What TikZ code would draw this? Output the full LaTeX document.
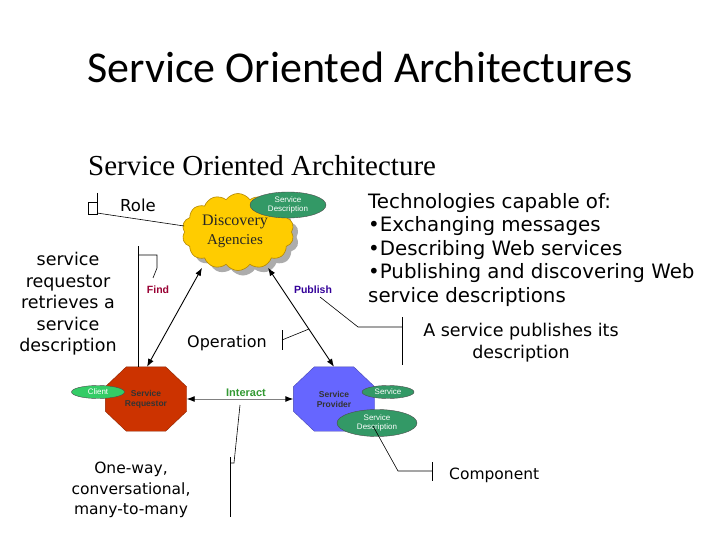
\documentclass[tikz,border=0pt]{standalone}
\usepackage{fontspec}
\setmainfont{DejaVu Sans}
\newfontfamily\titlefont{Carlito}
\newfontfamily\serifx{Liberation Serif}
\newfontfamily\arialx{Liberation Sans}
\usetikzlibrary{shapes.symbols,shapes.geometric,arrows.meta,backgrounds,calc}
\definecolor{cloudy}{HTML}{FFCC00}
\definecolor{cloudedge}{HTML}{B38600}
\definecolor{sgreen}{HTML}{339966}
\definecolor{lgreen}{HTML}{33CC66}
\definecolor{reqred}{HTML}{CC3300}
\definecolor{provblue}{HTML}{6666FF}
\definecolor{findc}{HTML}{990033}
\definecolor{pubc}{HTML}{330099}
\definecolor{intc}{HTML}{339933}
\newcommand\octofill[2]{%
  \filldraw[fill=#2, draw=#2!70!black, line width=0.4pt] ([xshift=21pt]#1.north west) -- ([xshift=-21pt]#1.north east)
    -- ([yshift=-20pt]#1.north east) -- ([yshift=20pt]#1.south east)
    -- ([xshift=-21pt]#1.south east) -- ([xshift=21pt]#1.south west)
    -- ([yshift=20pt]#1.south west) -- ([yshift=-20pt]#1.north west) -- cycle;}
\begin{document}
\begin{tikzpicture}[x=1pt,y=-1pt,inner sep=0pt,
  cloudshape/.style={cloud, cloud puffs=14, cloud puff arc=110, cloud ignores aspect,
    minimum width=112pt, minimum height=77pt},
  ell/.style={ellipse, fill=#1, draw=black!70, line width=0.4pt, text=white,
    font=\arialx\fontsize{8}{8.5}\selectfont, align=center},
  octo/.style={rectangle, minimum width=81pt, minimum height=64pt, align=center,
    font=\arialx\bfseries\fontsize{8.5}{10}\selectfont},
  dblarrow/.style={{Latex[length=8pt,width=6pt,color=black]}-{Latex[length=8pt,width=6pt,color=black]}, line width=0.9pt},
  callout/.style={draw=black, line width=0.6pt},
  lbl/.style={font=\arialx\bfseries\fontsize{10.5}{12}\selectfont}]
\useasboundingbox (0,0) rectangle (720,540);

% titles
\node[font=\titlefont\fontsize{44}{46}\selectfont] (title) at (360,67) {Service Oriented Architectures};
\node[anchor=base west, font=\serifx\fontsize{29}{30}\selectfont] (sub) at (88,176) {Service Oriented Architecture};

% cloud
\node[cloudshape, fill=gray!65] (cshadow) at (243,237) {};
\node[cloudshape, fill=cloudy, draw=cloudedge, line width=0.6pt] (cloud) at (238,232) {};
\node[font=\serifx\fontsize{16}{16}\selectfont, text=black!85] (disc) at (235,222) {Discovery};
\node[font=\serifx\fontsize{15}{16}\selectfont, text=black!85] (agen) at (235,241) {Agencies};
\node[ell=sgreen, minimum width=76pt, minimum height=26pt] (sd1) at (288,205) {Service\\Description};

% octagons
\node[octo, text=black!80] (req) at (146,399) {Service\\Requestor};
\node[octo, text=black!80] (prov) at (334,399) {Service\\Provider};
\begin{scope}[on background layer]
  \fill[white] (0,0) rectangle (720,540);
  \octofill{req}{reqred}
  \octofill{prov}{provblue}
\end{scope}
\node[ell=lgreen, minimum width=53pt, minimum height=13pt] (client) at (98,392) {Client};
\node[ell=sgreen, minimum width=52pt, minimum height=13pt] (serv) at (388,392) {Service};
\node[ell=sgreen, minimum width=80pt, minimum height=27pt] (sd2) at (377,423) {Service\\Description};

% arrows
\draw[dblarrow] ([xshift=-36pt,yshift=3pt]cloud.south) -- ([xshift=1pt]req.north);
\draw[dblarrow] ([xshift=30pt,yshift=3pt]cloud.south) -- (prov.north);
\draw[dblarrow, draw=gray] (req.east) -- (prov.west);

% arrow labels
\node[lbl, text=findc] (find) at (158,290) {Find};
\node[lbl, text=pubc] (pub) at (313,290) {Publish};
\node[lbl, text=intc, font=\arialx\bfseries\fontsize{11}{12}\selectfont] (inter) at (246,393) {Interact};

% annotation texts
\node[font=\fontsize{16.5}{18}\selectfont] (role) at (138,205) {Role};
\node[font=\fontsize{17.5}{21.5}\selectfont, align=center] (reqtxt) at (68,304) {service\\requestor\\retrieves a\\service\\description};
\node[anchor=west, font=\fontsize{19.8}{23.5}\selectfont, align=left] (tech) at (368,250)
  {Technologies capable of:\\•Exchanging messages\\•Describing Web services\\•Publishing and discovering Web\\service descriptions};
\node[font=\fontsize{17.5}{22}\selectfont, align=center] (pubtxt) at (521,343) {A service publishes its\\description};
\node[font=\fontsize{16}{18}\selectfont] (oper) at (227,343) {Operation};
\node[font=\fontsize{15.5}{20.5}\selectfont, align=center] (oneway) at (131,490) {One-way,\\conversational,\\many-to-many};
\node[anchor=west, font=\fontsize{15.5}{18}\selectfont] (comp) at (449,475) {Component};

% callouts
\coordinate (rolebr) at (97,213);
\draw[callout] (88,202) rectangle (97,214);
\draw[callout] (97,193) -- (97,215);
\draw[callout] (rolebr) -- ([yshift=6pt]cloud.west);

\coordinate (findbr) at (138,255);
\draw[callout] (138,246) -- (138,367);
\draw[callout] (findbr) -- (157,255) -- (157,268) -- (153,278);

\coordinate (pubbr) at (402,327);
\draw[callout] (320,297) -- (358,327) -- (pubbr);
\draw[callout] (402,317) -- (402,365);

\coordinate (operbr) at (282,340);
\draw[callout] (282,330) -- (282,350);
\draw[callout] (operbr) -- (309,329);

\coordinate (intbr) at (230,463);
\draw[callout] (240,405) -- (234,463) -- (intbr);
\draw[callout] (230,457) -- (230,517);

\coordinate (compbr) at (432,471);
\draw[callout] (373,426) -- (398,471) -- (compbr);
\draw[callout] (432,462) -- (432,481);
\end{tikzpicture}
\end{document}
